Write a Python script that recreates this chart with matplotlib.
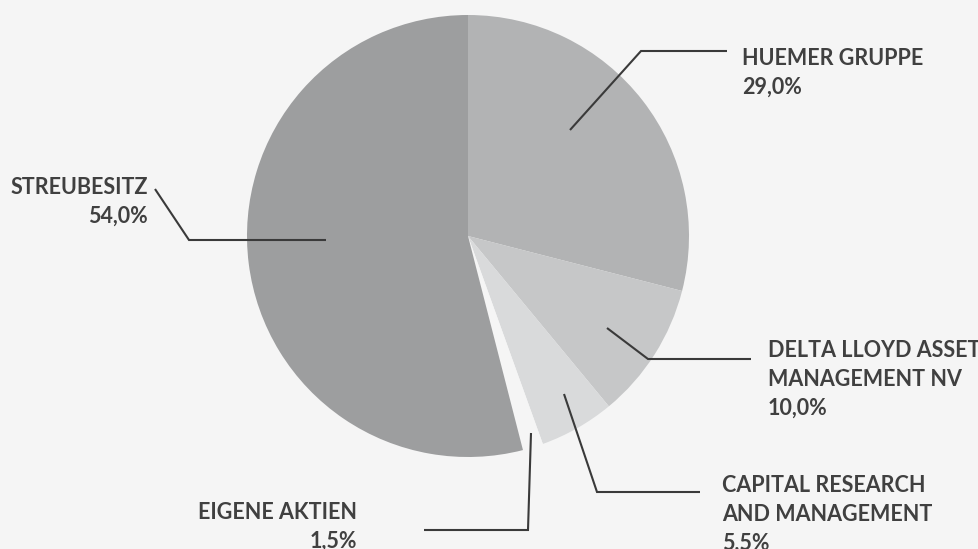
import matplotlib
matplotlib.use("Agg")
import matplotlib.pyplot as plt

# Data
categories = ["HUEMER GRUPPE", "DELTA LLOYD ASSET\nMANAGEMENT NV", "CAPITAL RESEARCH\nAND MANAGEMENT", "EIGENE AKTIEN", "STREUBESITZ"]
values = [29.0, 10.0, 5.5, 1.5, 54.0]
value_labels = ["29,0%", "10,0%", "5,5%", "1,5%", "54,0%"]

BG = "#f5f5f5"
colors = ["#b2b3b4", "#c6c7c8", "#d9dadb", BG, "#9d9e9f"]
TXT = "#404040"
LINE = "#3a3a3a"

W, H = 979, 549
fig = plt.figure(figsize=(W / 100, H / 100), dpi=100, facecolor=BG)
ax = fig.add_axes([0, 0, 1, 1])
ax.set_facecolor(BG)

# y axis inverted -> start at -90 and counterclock=True gives visual clockwise from top
ax.pie(values, colors=colors, startangle=-90, counterclock=True,
       center=(468, 236), radius=221, wedgeprops=dict(linewidth=0))
ax.set_xlim(0, W)
ax.set_ylim(H, 0)
ax.set_aspect("equal")
ax.axis("off")

# leader lines (layout)
leaders = [
    [(570, 130), (641, 51), (727, 51)],
    [(607, 328), (648, 359), (751, 359)],
    [(564, 394), (597, 492), (700, 492)],
    [(531, 433), (528, 530), (424, 530)],
    [(326, 240), (189, 240), (155, 189)],
]
for pts in leaders:
    xs, ys = zip(*pts)
    ax.plot(xs, ys, color=LINE, lw=1.5, solid_capstyle="butt", solid_joinstyle="miter")

font = dict(family=["Lato", "DejaVu Sans"], fontweight="bold", fontsize=15.5, color=TXT)
# label anchors: (x, first baseline, ha)
anchors = [(742, 65, "left"), (768, 357, "left"), (722, 492, "left"), (357, 519, "right"), (148, 194, "right")]
step = 29
for cat, vl, (x, y0, ha) in zip(categories, value_labels, anchors):
    lines = cat.split("\n") + [vl]
    for i, ln in enumerate(lines):
        ax.text(x, y0 + i * step, ln, ha=ha, va="baseline", **font)

fig.savefig("out.png", dpi=100, facecolor=BG)
